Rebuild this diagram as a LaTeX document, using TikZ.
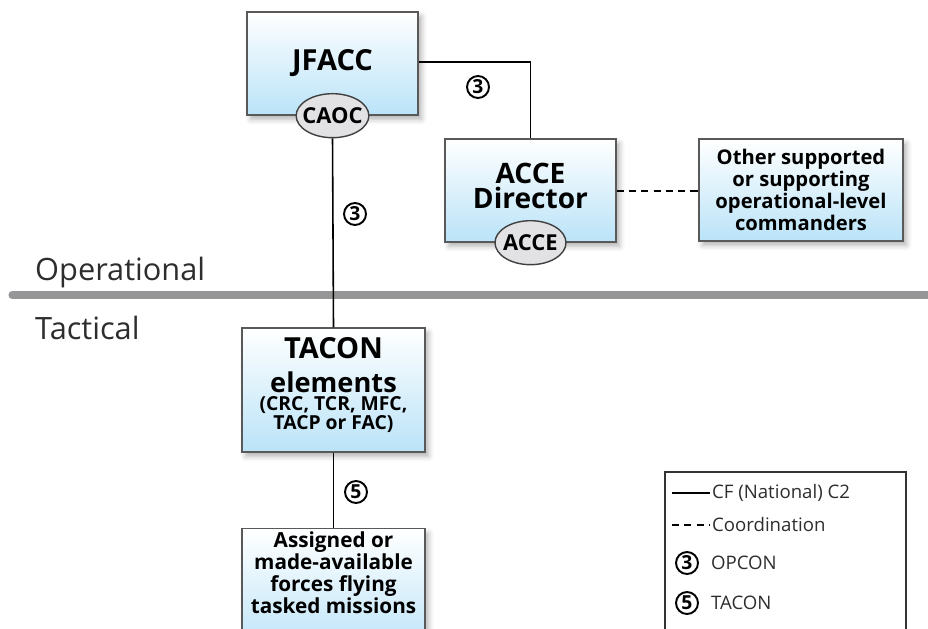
\documentclass[tikz,border=0pt]{standalone}
\usepackage{fontspec}
\setmainfont{Open Sans}
\usetikzlibrary{shapes.geometric,shadows.blur,positioning}
\definecolor{boxblue}{RGB}{186,227,248}
\definecolor{ovalgray}{RGB}{226,226,228}
\definecolor{bandgray}{RGB}{150,150,152}
\definecolor{inkgray}{RGB}{45,45,45}
\begin{document}
\begin{tikzpicture}[x=0.02cm, y=-0.02cm, every node/.style={font=\small, text=black},
    box/.style={draw=black!65, line width=0.8pt, top color=white, bottom color=boxblue,
        align=center, font=\bfseries, inner sep=2pt,
        blur shadow={shadow xshift=2pt, shadow yshift=-2.5pt, shadow blur radius=3pt,
            shadow opacity=30}},
    oval/.style={ellipse, draw=black!75, line width=0.8pt, fill=ovalgray,
        font=\fontsize{12.5}{13}\selectfont\bfseries, inner xsep=-2.5pt, inner ysep=0pt,
        minimum width=1.42cm, minimum height=0.88cm},
    numcirc/.style={circle, draw=black, line width=1.1pt, inner sep=0pt, minimum size=0.44cm,
        font=\fontsize{11}{11}\selectfont\bfseries},
    link/.style={draw=black, line width=0.9pt},
    coord/.style={draw=black, line width=0.8pt, dash pattern=on 4pt off 3pt},
    level/.style={anchor=base west, text=inkgray, font=\fontsize{17.5}{20}\selectfont},
    legtext/.style={anchor=west, text=inkgray, inner sep=1pt, font=\fontsize{10.6}{12}\selectfont}]
    \clip (0,0) rectangle (928,628);

    % levels
    \draw[line width=4pt, bandgray, line cap=round] (12,295) -- (940,295);
    \node[level] (oper) at (29,280) {Operational};
    \node[level] (tact) at (29,339) {Tactical};

    % boxes
    \node[box, minimum width=3.42cm, minimum height=2.06cm,
        font=\fontsize{16.5}{20}\selectfont\bfseries] (jfacc) at (332.5,63.5) {\raisebox{2pt}{JFACC}};
    \node[box, minimum width=3.42cm, minimum height=2.06cm,
        font=\fontsize{16}{14.6}\selectfont\bfseries] (acce) at (530.5,190.5)
        {ACCE\\Director\rule[-5.4pt]{0pt}{5.4pt}};
    \node[box, minimum width=4.08cm, minimum height=2.04cm,
        font=\fontsize{11.5}{11.1}\selectfont\bfseries] (other) at (801,190)
        {Other supported\\or supporting\\operational-level\\commanders};
    \node[box, minimum width=3.66cm, minimum height=2.48cm,
        font=\fontsize{11}{10}\selectfont\bfseries] (tacon) at (333.5,390)
        {{\fontsize{16.5}{16}\selectfont TACON}\\[6pt]
         {\fontsize{15.5}{14}\selectfont elements}\\[0.5pt]
         (CRC, TCR, MFC,\\[1pt]
         TACP or FAC)\rule[-7pt]{0pt}{7pt}};
    \node[box, minimum width=3.66cm, minimum height=2.3cm, anchor=north,
        font=\fontsize{11.8}{12.4}\selectfont\bfseries] (forces) at (333.5,528)
        {Assigned or\\made-available\\forces flying\\tasked missions\\[9.5pt]};

    % ovals
    \node[oval] (caoc) at (jfacc.south) {CAOC};
    \node[oval] (accel) at (acce.south) {ACCE};

    % connectors
    \draw[link] (jfacc.east |- 0,62) -| (acce.north);
    \draw[link] (caoc.south) -- (tacon.north);
    \draw[link] (tacon.south) -- (forces.north);
    \draw[coord] (acce.east |- 0,191) -- (other.west |- 0,191);

    \node[numcirc] (n3a) at (478,87) {3};
    \node[numcirc] (n3b) at (355,214) {3};
    \node[numcirc] (n5) at (356,492) {5};

    % legend
    \node[draw=black!80, line width=1.2pt, anchor=north west, minimum width=4.82cm,
        minimum height=3.5cm] (legend) at (664,471) {};
    \coordinate (solA) at (672,493);
    \coordinate (solB) at (710,493);
    \draw[link] (solA) -- (solB);
    \node[legtext] (solT) at (solB) {CF (National) C2};
    \coordinate (dshA) at (672,525);
    \coordinate (dshB) at (710,525);
    \draw[coord] (dshA) -- (dshB);
    \node[legtext] (dshT) at (dshB) {Coordination};
    \node[numcirc] (leg3) at (687,563) {3};
    \node[legtext] (leg3T) at (709,563) {OPCON};
    \node[numcirc] (leg5) at (687,603) {5};
    \node[legtext] (leg5T) at (709,603) {TACON};
\end{tikzpicture}
\end{document}
